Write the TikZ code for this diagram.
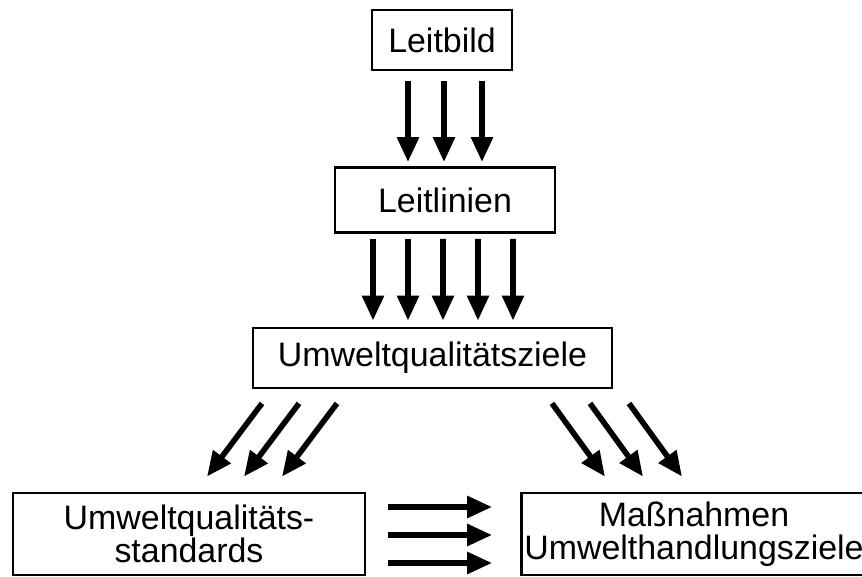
\documentclass[tikz,border=0pt]{standalone}
\usepackage{fontspec}
\setmainfont{Liberation Sans}
\usetikzlibrary{arrows.meta}

\begin{document}
\begin{tikzpicture}[x=0.02cm, y=-0.02cm]
    % Define styles
    \tikzstyle{box} = [rectangle, draw, line width=1.6pt, inner sep=0pt, align=center, font=\fontsize{19.3}{18.5}\selectfont]
    \tikzstyle{pfeil} = [line width=3.2pt, -{Triangle[length=0.5cm, width=0.42cm]}]
    \useasboundingbox (0,0) rectangle (862,577);

    % Boxes
    \node[box, minimum width=2.8cm, minimum height=1.2cm] (leitbild) at (442,40) {Leitbild};
    \node[box, minimum width=4.4cm, minimum height=1.3cm] (leitlinien) at (445,200) {Leitlinien};
    \node[box, minimum width=7.18cm, minimum height=1.2cm] (ziele) at (432.5,358) {Umweltqualitätsziele};
    \node[box, minimum width=7.04cm, minimum height=1.64cm] (standards) at (189,534) {Umweltqualitäts-\\standards};
    \node[box, minimum width=6.9cm, minimum height=1.64cm] (massnahmen) at (694,534) {Maßnahmen\\Umwelthandlungsziele};

    % Arrows Leitbild -> Leitlinien
    \foreach \dx in {-34,2,40}
        \draw[pfeil] ([shift={(\dx,10)}]leitbild.south) -- ([shift={(\dx-3,-4)}]leitlinien.north);

    % Arrows Leitlinien -> Umweltqualitaetsziele
    \foreach \dx in {-72,-37,-2,33,68}
        \draw[pfeil] ([shift={(\dx,5)}]leitlinien.south) -- ([shift={(\dx+12.5,-6)}]ziele.north);

    % Arrows to the two lower boxes
    \foreach \dx in {0,37,75}
        \draw[pfeil] ([shift={(-170.5+\dx,14)}]ziele.south) -- ([shift={(18+\dx,-15)}]standards.north);
    \foreach \dx in {0,38,77}
        \draw[pfeil] ([shift={(119.5+\dx,14)}]ziele.south) -- ([shift={(-89+\dx,-15)}]massnahmen.north);

    % Arrows Standards -> Massnahmen
    \foreach \dy in {-27,1,29}
        \draw[pfeil] ([shift={(22,\dy)}]standards.east) -- ([shift={(-28,\dy)}]massnahmen.west);
\end{tikzpicture}
\end{document}
